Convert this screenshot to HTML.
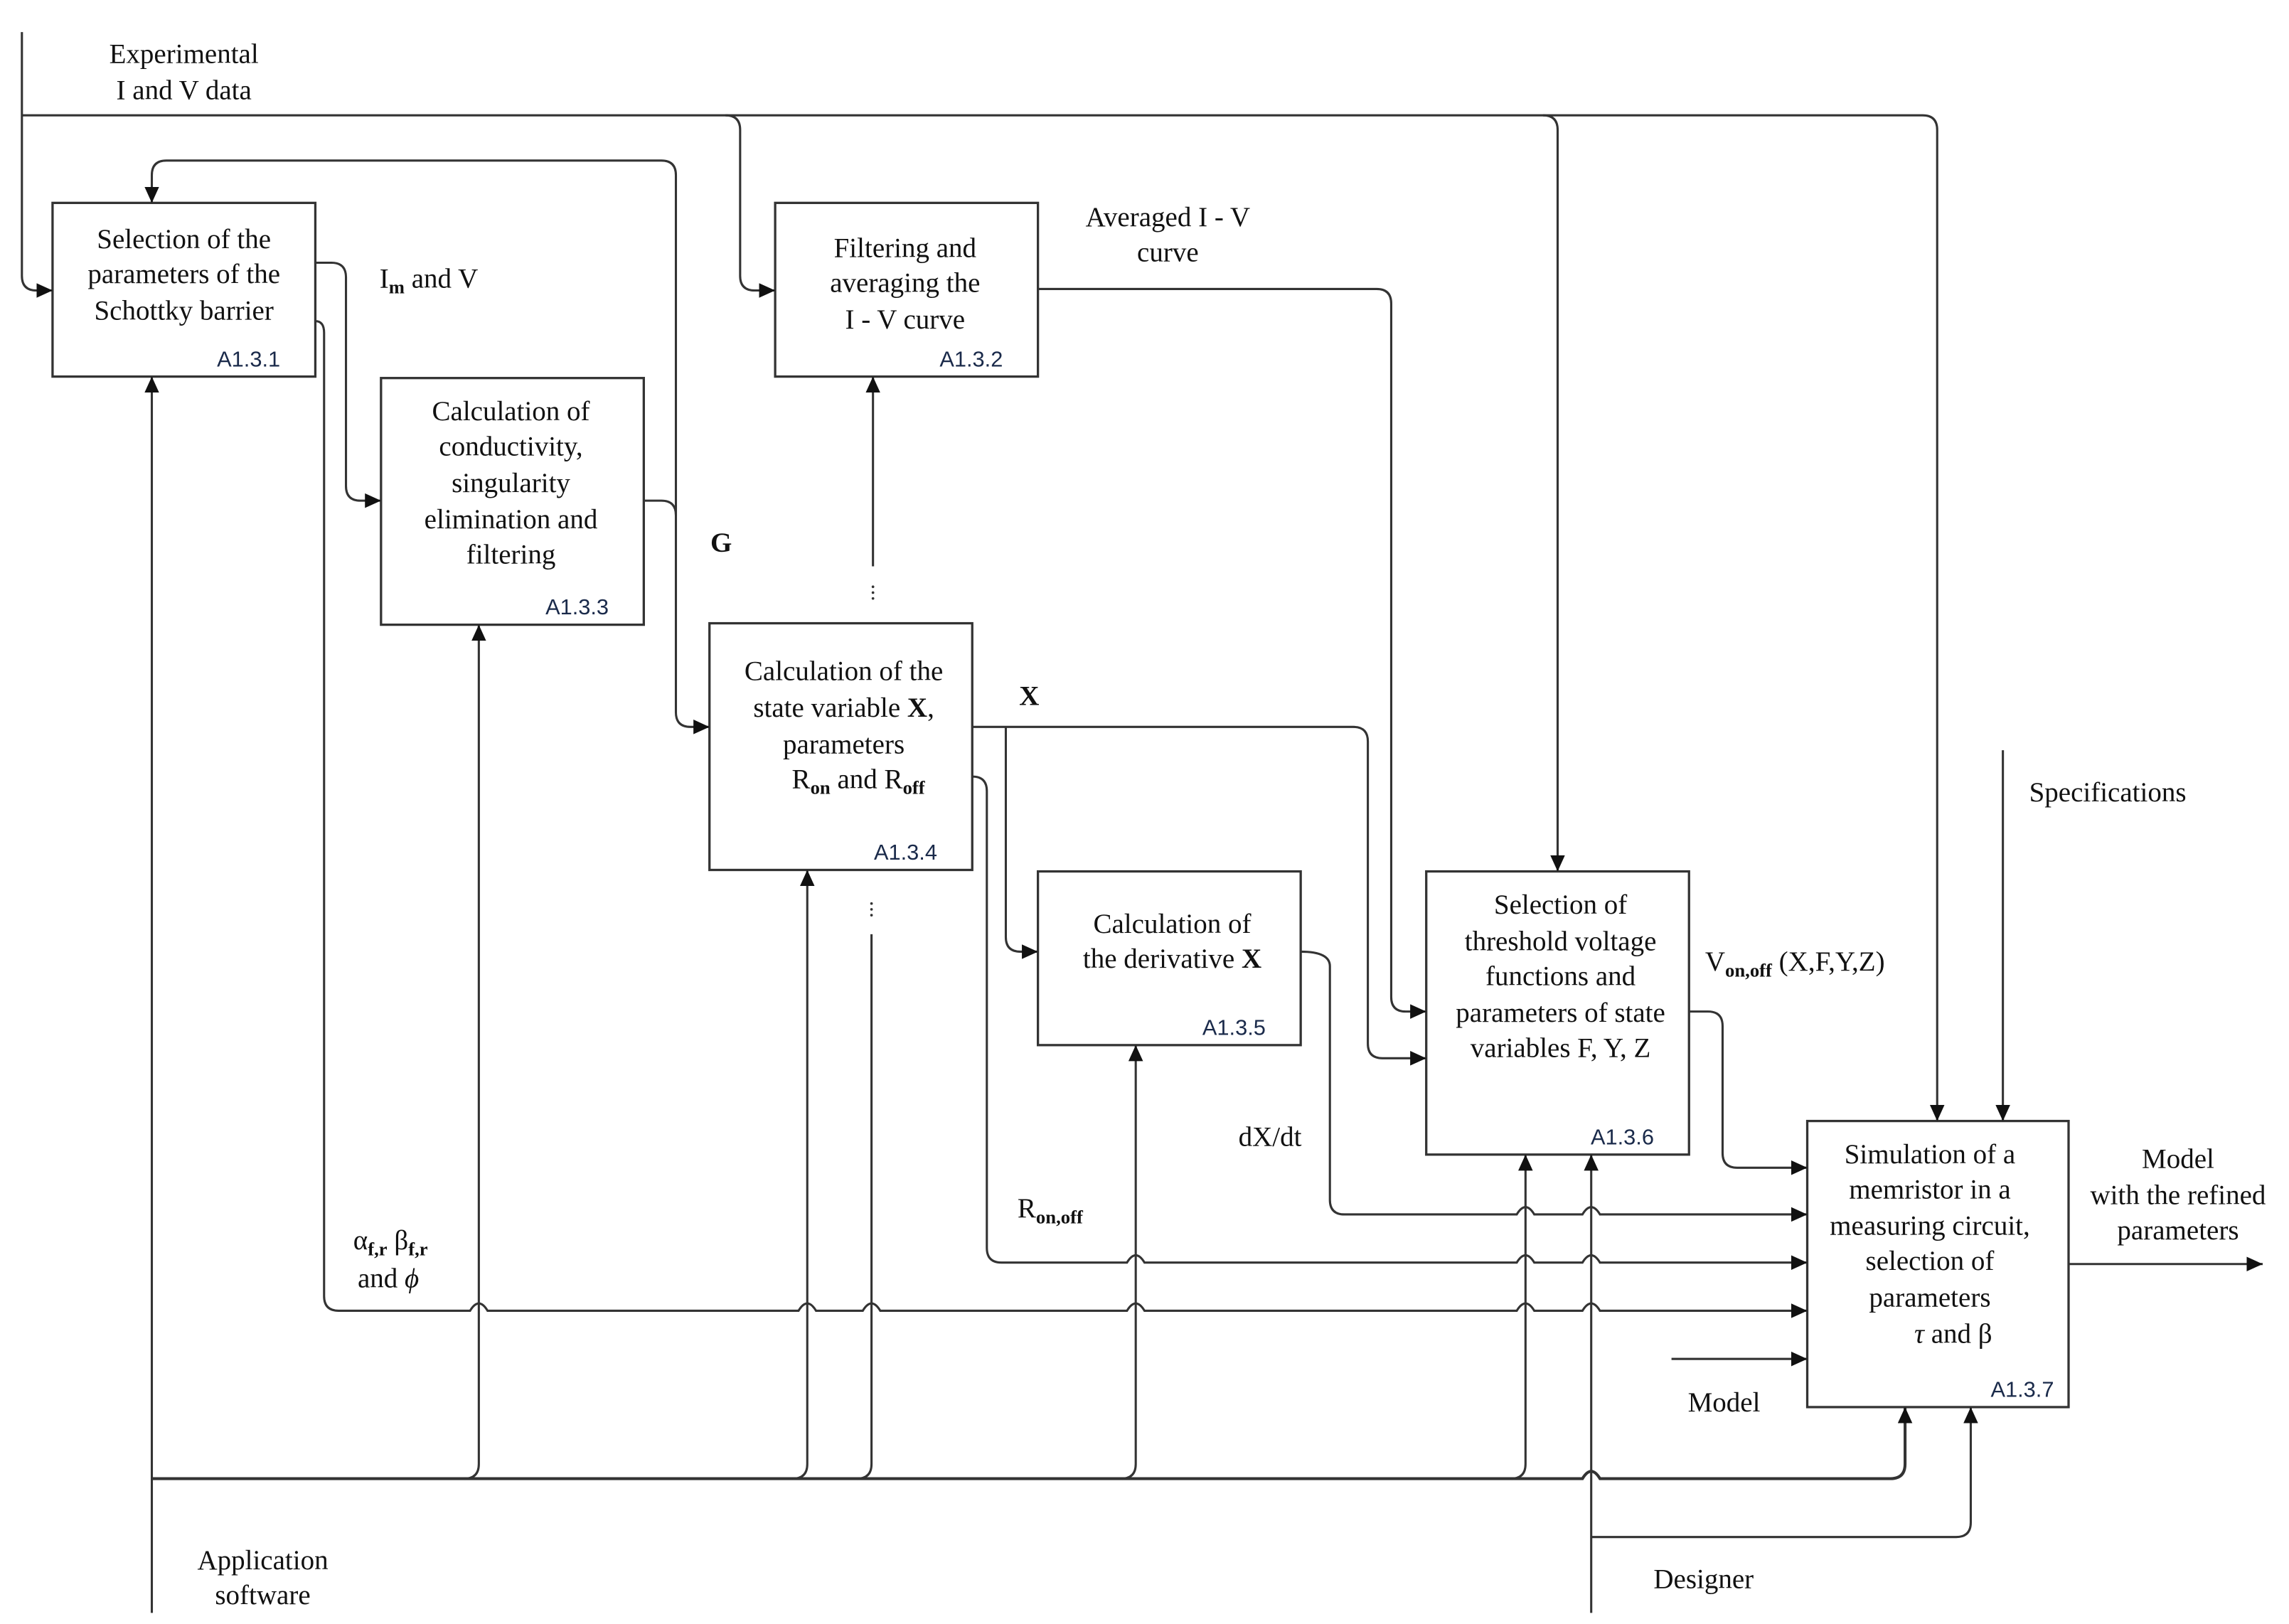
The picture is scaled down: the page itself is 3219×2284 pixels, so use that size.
<!DOCTYPE html>
<html><head><meta charset="utf-8"><style>
html,body{margin:0;padding:0;background:#fff;}
svg{display:block;}
.t{font-family:"Liberation Serif",serif;font-size:19px;fill:#111;text-anchor:middle;}
.c{font-family:"Liberation Sans",sans-serif;font-size:15px;fill:#1a2a4a;text-anchor:end;}
.l{fill:none;stroke:#333;stroke-width:1.5;}
.b{fill:#fff;stroke:#333;stroke-width:1.6;}
</style></head><body>
<svg width="3219" height="2284" viewBox="0 0 1568 1112.6" preserveAspectRatio="none" xmlns="http://www.w3.org/2000/svg">
<defs><marker id="a" markerUnits="userSpaceOnUse" markerWidth="12" markerHeight="10" refX="11" refY="5" orient="auto"><path d="M0,0 L11,5 L0,10 Z" fill="#111"/></marker></defs>

<!-- boxes -->
<rect class="b" x="36" y="139" width="180" height="119"/>
<rect class="b" x="531" y="139" width="180" height="119"/>
<rect class="b" x="261" y="259" width="180" height="169"/>
<rect class="b" x="486" y="427" width="180" height="169"/>
<rect class="b" x="711" y="597" width="180" height="119"/>
<rect class="b" x="977" y="597" width="180" height="194"/>
<rect class="b" x="1238" y="768" width="179" height="196"/>

<!-- connectors -->
<g class="l">
<path d="M15,22 V189 Q15,199 25,199 H36" marker-end="url(#a)"/>
<path d="M15,79 H1317 Q1327,79 1327,89 V768" marker-end="url(#a)"/>
<path d="M497,79 Q507,79 507,89 V189 Q507,199 517,199 H531" marker-end="url(#a)"/>
<path d="M1057,79 Q1067,79 1067,89 V597" marker-end="url(#a)"/>
<path d="M441,343 H453 Q463,343 463,353 V488 Q463,498 473,498 H486" marker-end="url(#a)"/>
<path d="M463,353 V120 Q463,110 453,110 H114 Q104,110 104,120 V139" marker-end="url(#a)"/>
<path d="M216,180 H227 Q237,180 237,190 V333 Q237,343 247,343 H261" marker-end="url(#a)"/>
<path d="M216,220 Q222,220 222,228 V888 Q222,898 232,898 H322 Q328,888 334,898 H547 Q553,888 559,898 H591 Q597,888 603,898 H772 Q778,888 784,898 H1039 Q1045,888 1051,898 H1084 Q1090,888 1096,898 H1238" marker-end="url(#a)"/>
<path d="M711,198 H943 Q953,198 953,208 V683 Q953,693 963,693 H977" marker-end="url(#a)"/>
<path d="M598,388 V258" marker-end="url(#a)"/>
<path d="M666,498 H927 Q937,498 937,508 V715 Q937,725 947,725 H977" marker-end="url(#a)"/>
<path d="M689,498 V642 Q689,652 699,652 H711" marker-end="url(#a)"/>
<path d="M666,532 Q676,532 676,542 V855 Q676,865 686,865 H772 Q778,855 784,865 H1039 Q1045,855 1051,865 H1084 Q1090,855 1096,865 H1238" marker-end="url(#a)"/>
<path d="M891,652 Q911,652 911,662 V822 Q911,832 921,832 H1039 Q1045,822 1051,832 H1084 Q1090,822 1096,832 H1238" marker-end="url(#a)"/>
<path d="M1157,693 H1170 Q1180,693 1180,703 V790 Q1180,800 1190,800 H1238" marker-end="url(#a)"/>
<path d="M1145,931 H1238" marker-end="url(#a)"/>
<path d="M1372,514 V768" marker-end="url(#a)"/>
<path d="M1417,866 H1550" marker-end="url(#a)"/>
<path d="M104,1105 V258" marker-end="url(#a)"/>
<path d="M104,1013 H1084 Q1090,1003 1096,1013 H1295 Q1305,1013 1305,1003 V964" marker-end="url(#a)" style="stroke-width:2"/>
<path d="M318,1013 Q328,1013 328,1003 V428" marker-end="url(#a)"/>
<path d="M543,1013 Q553,1013 553,1003 V596" marker-end="url(#a)"/>
<path d="M768,1013 Q778,1013 778,1003 V716" marker-end="url(#a)"/>
<path d="M1035,1013 Q1045,1013 1045,1003 V791" marker-end="url(#a)"/>
<path d="M587,1013 Q597,1013 597,1003 V640"/>
<path d="M1090,1105 V791" marker-end="url(#a)"/>
<path d="M1090,1053 H1340 Q1350,1053 1350,1043 V964" marker-end="url(#a)"/>
</g>
<g fill="#333">
<circle cx="598" cy="402" r="0.9"/><circle cx="598" cy="406" r="0.9"/><circle cx="598" cy="410" r="0.9"/>
<circle cx="597" cy="619" r="0.9"/><circle cx="597" cy="623" r="0.9"/><circle cx="597" cy="627" r="0.9"/>
</g>

<!-- box text -->
<text class="t" x="126" y="170">Selection of the</text>
<text class="t" x="126" y="194">parameters of the</text>
<text class="t" x="126" y="219">Schottky barrier</text>
<text class="c" x="192" y="251">A1.3.1</text>

<text class="t" x="620" y="176">Filtering and</text>
<text class="t" x="620" y="200">averaging the</text>
<text class="t" x="620" y="225">I - V curve</text>
<text class="c" x="687" y="251">A1.3.2</text>

<text class="t" x="350" y="288">Calculation of</text>
<text class="t" x="350" y="312">conductivity,</text>
<text class="t" x="350" y="337">singularity</text>
<text class="t" x="350" y="362">elimination and</text>
<text class="t" x="350" y="386">filtering</text>
<text class="c" x="417" y="421">A1.3.3</text>

<text class="t" x="578" y="466">Calculation of the</text>
<text class="t" x="578" y="491">state variable <tspan font-weight="bold">X</tspan>,</text>
<text class="t" x="578" y="516">parameters</text>
<text class="t" x="588" y="540">R<tspan font-size="13" dy="4" font-weight="bold">on</tspan><tspan dy="-4"> and R</tspan><tspan font-size="13" dy="4" font-weight="bold">off</tspan></text>
<text class="c" x="642" y="589">A1.3.4</text>

<text class="t" x="803" y="639">Calculation of</text>
<text class="t" x="803" y="663">the derivative <tspan font-weight="bold">X</tspan></text>
<text class="c" x="867" y="709">A1.3.5</text>

<text class="t" x="1069" y="626">Selection of</text>
<text class="t" x="1069" y="651">threshold voltage</text>
<text class="t" x="1069" y="675">functions and</text>
<text class="t" x="1069" y="700">parameters of state</text>
<text class="t" x="1069" y="724">variables F, Y, Z</text>
<text class="c" x="1133" y="784">A1.3.6</text>

<text class="t" x="1322" y="797">Simulation of a</text>
<text class="t" x="1322" y="821">memristor in a</text>
<text class="t" x="1322" y="846">measuring circuit,</text>
<text class="t" x="1322" y="870">selection of</text>
<text class="t" x="1322" y="895">parameters</text>
<text class="t" x="1338" y="920"><tspan font-style="italic">τ</tspan> and β</text>
<text class="c" x="1407" y="957">A1.3.7</text>

<!-- labels -->
<text class="t" x="126" y="43">Experimental</text>
<text class="t" x="126" y="68">I and V data</text>
<text class="t" x="260" y="197" style="text-anchor:start">I<tspan font-size="13" dy="4" font-weight="bold">m</tspan><tspan dy="-4"> and V</tspan></text>
<text class="t" x="800" y="155">Averaged I - V</text>
<text class="t" x="800" y="179">curve</text>
<text class="t" x="494" y="378" font-weight="bold">G</text>
<text class="t" x="705" y="483" font-weight="bold">X</text>
<text class="t" x="870" y="785">dX/dt</text>
<text class="t" x="697" y="834" style="text-anchor:start">R<tspan font-size="13" dy="4" font-weight="bold">on,off</tspan></text>
<text class="t" x="242" y="856" style="text-anchor:start">α<tspan font-size="13" dy="4" font-weight="bold">f,r</tspan><tspan dy="-4">  β</tspan><tspan font-size="13" dy="4" font-weight="bold">f,r</tspan></text>
<text class="t" x="245" y="882" style="text-anchor:start">and <tspan font-style="italic">ϕ</tspan></text>
<text class="t" x="1168" y="665" style="text-anchor:start">V<tspan font-size="13" dy="4" font-weight="bold">on,off</tspan><tspan dy="-4"> (X,F,Y,Z)</tspan></text>
<text class="t" x="1390" y="549" style="text-anchor:start">Specifications</text>
<text class="t" x="1492" y="800">Model</text>
<text class="t" x="1492" y="825">with the refined</text>
<text class="t" x="1492" y="849">parameters</text>
<text class="t" x="1181" y="967">Model</text>
<text class="t" x="180" y="1075">Application</text>
<text class="t" x="180" y="1099">software</text>
<text class="t" x="1167" y="1088">Designer</text>
</svg>
</body></html>
